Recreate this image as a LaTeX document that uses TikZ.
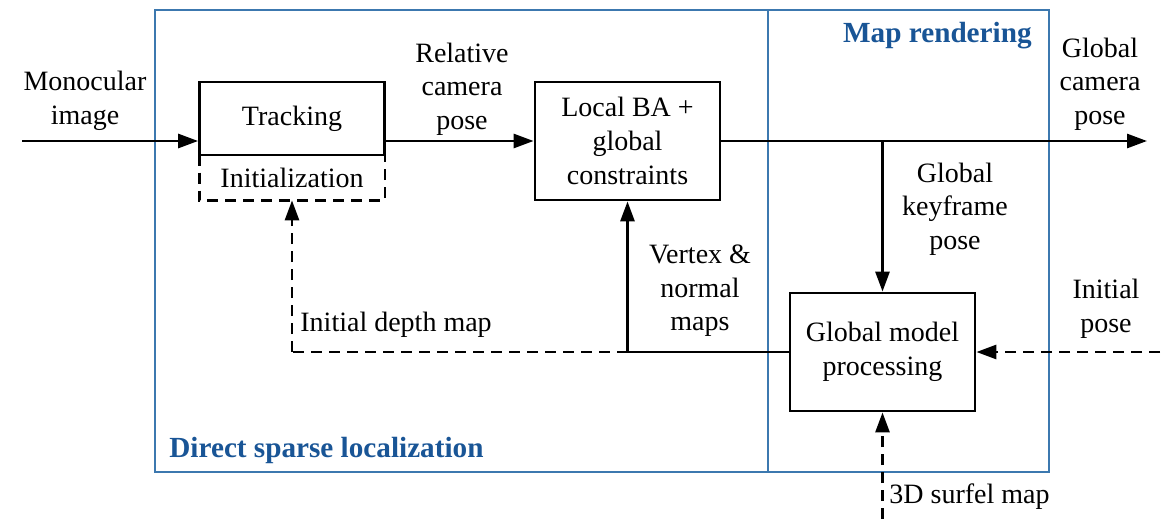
\documentclass[tikz,border=0pt]{standalone}
\usepackage{fontspec}
\setmainfont{Liberation Serif}
\usetikzlibrary{arrows.meta}
\definecolor{frameblue}{RGB}{60,120,175}
\definecolor{labelblue}{RGB}{25,85,150}
\begin{document}
\begin{tikzpicture}[x=0.5pt,y=-0.5pt,
  txt/.style={font=\fontsize{14}{16.8}\selectfont, align=center, inner sep=0pt},
  blk/.style={draw, line width=1.4pt, txt, minimum width=92.5pt},
  arr/.style={line width=1.4pt, -{Triangle[length=10pt,width=7pt]}},
  wire/.style={line width=1.4pt},
  dashline/.style={line width=1.4pt, dash pattern=on 5.5pt off 3.5pt},
  grp/.style={font=\fontsize{14.6}{17}\selectfont\bfseries, text=labelblue, inner sep=0pt}]
\useasboundingbox (0,0) rectangle (1162,519);

% grouping frames
\draw[frameblue, line width=0.8pt] (155,10) rectangle (1049,472);
\draw[frameblue, line width=0.8pt] (768,10) -- (768,472);
\node[grp, anchor=base west] (dsl) at (169,457) {Direct sparse localization};
\node[grp, anchor=base east] (mr) at (1032,43) {Map rendering};

% blocks
\node[blk, minimum height=36.5pt] (trk) at (292,118.5) {Tracking};
\node[txt, minimum width=92.5pt, minimum height=22.5pt] (init) at (292,177.5) {Initialization};
\draw[dashline] (init.north west) -- (init.south west) -- (init.south east) -- (init.north east);
\node[blk, minimum height=59pt] (lba) at (627.5,141) {Local BA +\\global\\constraints};
\node[blk, minimum height=59pt] (gmp) at (882.5,352) {Global model\\processing};

% free ends
\coordinate (in) at (22,141);
\coordinate (out) at (1147,141);
\coordinate (ipose) at (1160,352);
\coordinate (surf) at (882.5,519);

% connectors
\draw[arr] (in) -- (in -| trk.west);
\draw[arr] (trk.east |- lba.west) -- (lba.west);
\draw[arr] (lba.east) -- (out);
\coordinate (jn) at (gmp.north |- lba.east);
\draw[arr] (jn) -- (gmp.north);
\coordinate (jv) at (lba.south |- gmp.west);
\draw[wire] (gmp.west) -- (jv);
\draw[arr] (jv) -- (lba.south);
\draw[dashline] (jv) -- (init.south |- gmp.west);
\draw[dashline, -{Triangle[length=10pt,width=7pt]}] (init.south |- gmp.west) -- (init.south);
\draw[dashline, -{Triangle[length=10pt,width=7pt]}] (ipose) -- (gmp.east);
\draw[dashline, -{Triangle[length=10pt,width=7pt]}] (surf) -- (gmp.south);

% labels
\node[txt] (lmono) at (85,101) {Monocular\\image};
\node[txt] (lrel) at (462,89) {Relative\\camera\\pose};
\node[txt] (lglob) at (1100,84) {Global\\camera\\pose};
\node[txt] (lkey) at (955,209) {Global\\keyframe\\pose};
\node[txt] (lvert) at (700,291) {Vertex \&\\normal\\maps};
\node[txt, anchor=west] (ldepth) at (300,325) {Initial depth map};
\node[txt] (lipose) at (1106,309) {Initial\\pose};
\node[txt, anchor=west] (lsurf) at (889,497) {3D surfel map};
\end{tikzpicture}
\end{document}
